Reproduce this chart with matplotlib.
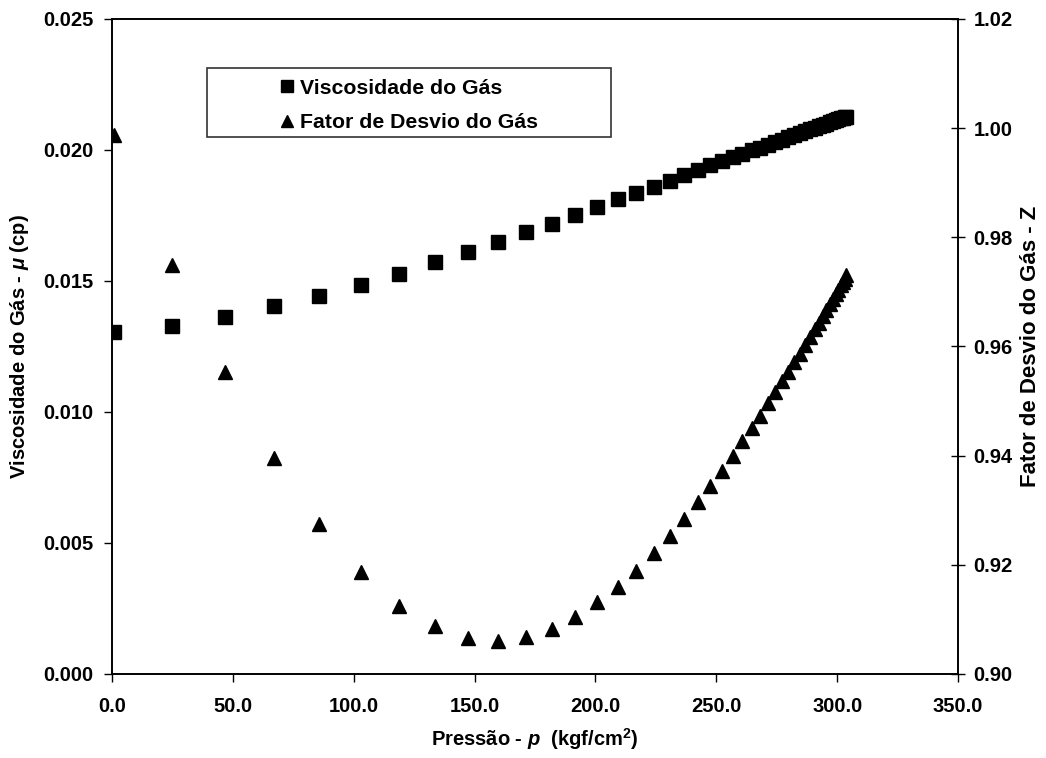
import matplotlib
matplotlib.use('Agg')
from matplotlib import pyplot as plt
from matplotlib.patches import Rectangle

plt.rcParams['font.family'] = 'Liberation Sans'
plt.rcParams['font.weight'] = 'bold'
plt.rcParams['axes.labelweight'] = 'bold'
plt.rcParams['mathtext.fontset'] = 'custom'
plt.rcParams['mathtext.rm'] = 'Liberation Sans:bold'
plt.rcParams['mathtext.it'] = 'Liberation Sans:italic:bold'
plt.rcParams['mathtext.bf'] = 'Liberation Sans:bold'

# pressao (kgf/cm2)
pressao = [1.0, 24.8, 46.7, 66.9, 85.7, 102.9, 118.7, 133.5, 147.1, 159.5,
           171.2, 181.9, 191.7, 200.7, 209.2, 216.9, 224.1, 230.7, 236.6, 242.3,
           247.5, 252.3, 256.7, 260.7, 264.6, 267.9, 271.2, 274.2, 277.0, 279.8,
           282.2, 284.6, 286.8, 288.8, 290.7, 292.4, 294.0, 295.5, 296.9, 298.2,
           299.4, 300.5, 301.5, 302.3, 303.0, 303.7]

# viscosidade do gas (cp)
viscosidade = [0.01304, 0.01328, 0.01364, 0.01403, 0.01444, 0.01486, 0.01528, 0.01571, 0.01610, 0.01649,
               0.01686, 0.01719, 0.01752, 0.01781, 0.01812, 0.01836, 0.01860, 0.01883, 0.01905, 0.01924,
               0.01942, 0.01958, 0.01972, 0.01985, 0.01998, 0.02009, 0.02020, 0.02030, 0.02039, 0.02048,
               0.02056, 0.02064, 0.02071, 0.02078, 0.02084, 0.02090, 0.02095, 0.02100, 0.02105, 0.02109,
               0.02113, 0.02117, 0.02120, 0.02122, 0.02124, 0.02126]

# fator de desvio Z
fator_z = [0.9988, 0.9749, 0.9553, 0.9395, 0.9274, 0.9186, 0.9125, 0.9087, 0.9066, 0.9061,
           0.9068, 0.9083, 0.9104, 0.9131, 0.9160, 0.9189, 0.9221, 0.9252, 0.9283, 0.9314,
           0.9344, 0.9372, 0.9399, 0.9426, 0.9450, 0.9473, 0.9496, 0.9516, 0.9536, 0.9554,
           0.9572, 0.9587, 0.9603, 0.9617, 0.9631, 0.9643, 0.9655, 0.9666, 0.9677, 0.9687,
           0.9696, 0.9704, 0.9712, 0.9718, 0.9724, 0.9730]

fig = plt.figure(figsize=(10.46, 7.58), dpi=100)
ax = fig.add_axes([0.107, 0.111, 0.809, 0.864])
ax2 = ax.twinx()

l1, = ax.plot(pressao, viscosidade, 's', color='black', markersize=9.5, linestyle='none',
              label='Viscosidade do Gás')
l2, = ax2.plot(pressao, fator_z, '^', color='black', markersize=9.5, linestyle='none',
               label='Fator de Desvio do Gás')

ax.set_xlim(0, 350)
ax.set_ylim(0, 0.025)
ax2.set_ylim(0.90, 1.02)
ax.set_xticks([0, 50, 100, 150, 200, 250, 300, 350])
ax.set_xticklabels(['%.1f' % v for v in ax.get_xticks()])
ax.set_yticks([0, 0.005, 0.010, 0.015, 0.020, 0.025])
ax.set_yticklabels(['%.3f' % v for v in ax.get_yticks()])
ax2.set_yticks([0.90, 0.92, 0.94, 0.96, 0.98, 1.00, 1.02])
ax2.set_yticklabels(['%.2f' % v for v in ax2.get_yticks()])

ax.tick_params(axis='both', direction='out', length=6, width=1, labelsize=14.5)
ax.tick_params(axis='x', pad=11)
ax.tick_params(axis='y', pad=7)
ax2.tick_params(axis='y', direction='inout', length=10, width=1, labelsize=14.5, pad=6)
for a in (ax, ax2):
    for s in a.spines.values():
        s.set_linewidth(1.2)

ax.set_xlabel(r'Pressão - $\mathit{p}$  (kgf/cm$^2$)', fontsize=14.5, labelpad=7)
ax.set_ylabel(r'Viscosidade do Gás - $\mu$ (cp)', fontsize=14.5, labelpad=9)
ax2.set_ylabel('Fator de Desvio do Gás - Z', fontsize=16, labelpad=5)

# caixa da legenda
ax.add_patch(Rectangle((0.112, 0.820), 0.478, 0.105, transform=ax.transAxes,
                       facecolor='white', edgecolor='#333333', linewidth=1.2, zorder=5))
leg = ax2.legend(handles=[l1, l2], loc='center', bbox_to_anchor=(0.351, 0.868),
                 frameon=False, fontsize=15.3, handlelength=0.6, handletextpad=0.3,
                 labelspacing=0.73, markerscale=0.95, borderpad=0)
leg.set_zorder(6)

fig.savefig('out.png', dpi=100)
